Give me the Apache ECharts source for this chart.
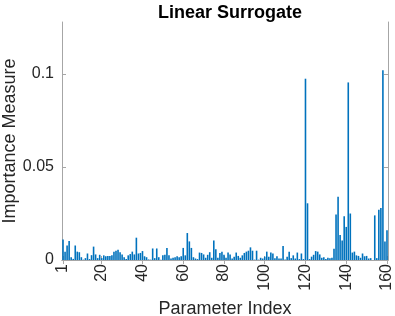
<!DOCTYPE html>
<html>
<head>
<meta charset="utf-8">
<script src="https://cdn.jsdelivr.net/npm/echarts@6/dist/echarts.min.js"></script>
<style>
html,body{margin:0;padding:0;background:#fff;}
#chart{width:395px;height:316px;}
</style>
</head>
<body>
<div id="chart"></div>
<script>
// importance per parameter (index 1..160)
var importance = [
  0.0110, 0.0045, 0.0078, 0.0102, 0.0015, 0.0006, 0.0078, 0.0045, 0.0042, 0.0015,
  0.0002, 0.0010, 0.0035, 0.0005, 0.0026, 0.0072, 0.0030, 0.0010, 0.0028, 0.0010,
  0.0025, 0.0020, 0.0022, 0.0022, 0.0025, 0.0045, 0.0050, 0.0055, 0.0042, 0.0030,
  0.0015, 0.0006, 0.0025, 0.0032, 0.0045, 0.0030, 0.0120, 0.0035, 0.0038, 0.0048,
  0.0020, 0.0015, 0.0003, 0.0002, 0.0062, 0.0010, 0.0062, 0.0015, 0.0002, 0.0025,
  0.0028, 0.0065, 0.0025, 0.0008, 0.0012, 0.0015, 0.0020, 0.0015, 0.0020, 0.0065,
  0.0025, 0.0145, 0.0100, 0.0065, 0.0015, 0.0008, 0.0005, 0.0040, 0.0038, 0.0030,
  0.0012, 0.0028, 0.0042, 0.0012, 0.0105, 0.0058, 0.0012, 0.0038, 0.0045, 0.0028,
  0.0012, 0.0040, 0.0030, 0.0008, 0.0018, 0.0040, 0.0022, 0.0012, 0.0025, 0.0038,
  0.0045, 0.0050, 0.0068, 0.0050, 0.0002, 0.0050, 0.0002, 0.0012, 0.0008, 0.0018,
  0.0045, 0.0018, 0.0040, 0.0035, 0.0010, 0.0020, 0.0008, 0.0008, 0.0075, 0.0003,
  0.0018, 0.0045, 0.0010, 0.0025, 0.0008, 0.0040, 0.0005, 0.0035, 0.0005, 0.0975,
  0.0305, 0.0005, 0.0018, 0.0028, 0.0048, 0.0045, 0.0030, 0.0012, 0.0015, 0.0005,
  0.0012, 0.0010, 0.0012, 0.0060, 0.0245, 0.0340, 0.0135, 0.0105, 0.0235, 0.0178,
  0.0955, 0.0250, 0.0040, 0.0045, 0.0025, 0.0022, 0.0012, 0.0035, 0.0020, 0.0022,
  0.0008, 0.0010, 0.0000, 0.0240, 0.0010, 0.0270, 0.0280, 0.1020, 0.0100, 0.0160
];
var xTicks = [1, 20, 40, 60, 80, 100, 120, 140, 160];
var yTicks = [0, 0.05, 0.1];

var axisGray = '#a6a6a6';
var textCol = '#262626';
var font = 'Liberation Sans, Arial, sans-serif';

var barData = [];
for (var i = 0; i < importance.length; i++) {
    barData.push([i + 1, importance[i]]);
}

var myChart = echarts.init(document.getElementById('chart'));
var option = {
    animation: false,
    title: {
        text: 'Linear Surrogate',
        left: 225,
        textAlign: 'center',
        top: -1,
        textStyle: {fontFamily: font, fontSize: 18, fontWeight: 'bold', color: '#000'}
    },
    grid: {left: 62, right: 7, top: 22, bottom: 56, outerBoundsMode: 'none', containLabel: false},
    xAxis: [{
        type: 'value',
        min: 0.5,
        max: 160.5,
        name: 'Parameter Index',
        nameLocation: 'middle',
        nameGap: 40,
        nameMoveOverlap: false,
        nameTextStyle: {fontFamily: font, fontSize: 18, color: textCol},
        axisLine: {lineStyle: {color: axisGray}},
        axisTick: {inside: true, length: 4, customValues: xTicks, lineStyle: {color: axisGray}},
        axisLabel: {customValues: xTicks, rotate: 90, margin: 4, fontFamily: font, fontSize: 16, color: textCol},
        splitLine: {show: false}
    }, {
        type: 'value',
        position: 'top',
        min: 0.5,
        max: 160.5,
        axisLine: {show: true, lineStyle: {color: axisGray}},
        axisTick: {inside: true, length: 4, customValues: xTicks, lineStyle: {color: axisGray}},
        axisLabel: {show: false},
        splitLine: {show: false}
    }],
    yAxis: [{
        type: 'value',
        min: 0,
        max: 0.128,
        name: 'Importance Measure',
        nameLocation: 'middle',
        nameGap: 43,
        nameMoveOverlap: false,
        nameTextStyle: {fontFamily: font, fontSize: 18, color: textCol},
        axisLine: {show: true, lineStyle: {color: axisGray}},
        axisTick: {show: true, inside: true, length: 4, customValues: yTicks, lineStyle: {color: axisGray}},
        axisLabel: {customValues: yTicks, margin: 8, fontFamily: font, fontSize: 16, color: textCol},
        splitLine: {show: false}
    }, {
        type: 'value',
        position: 'right',
        min: 0,
        max: 0.128,
        axisLine: {show: true, lineStyle: {color: axisGray}},
        axisTick: {show: true, inside: true, length: 4, customValues: yTicks, lineStyle: {color: axisGray}},
        axisLabel: {show: false},
        splitLine: {show: false}
    }],
    series: [{
        type: 'bar',
        xAxisIndex: 0,
        yAxisIndex: 0,
        barWidth: 1.6,
        itemStyle: {color: '#0072BD'},
        data: barData
    }]
};
myChart.setOption(option);
</script>
</body>
</html>
